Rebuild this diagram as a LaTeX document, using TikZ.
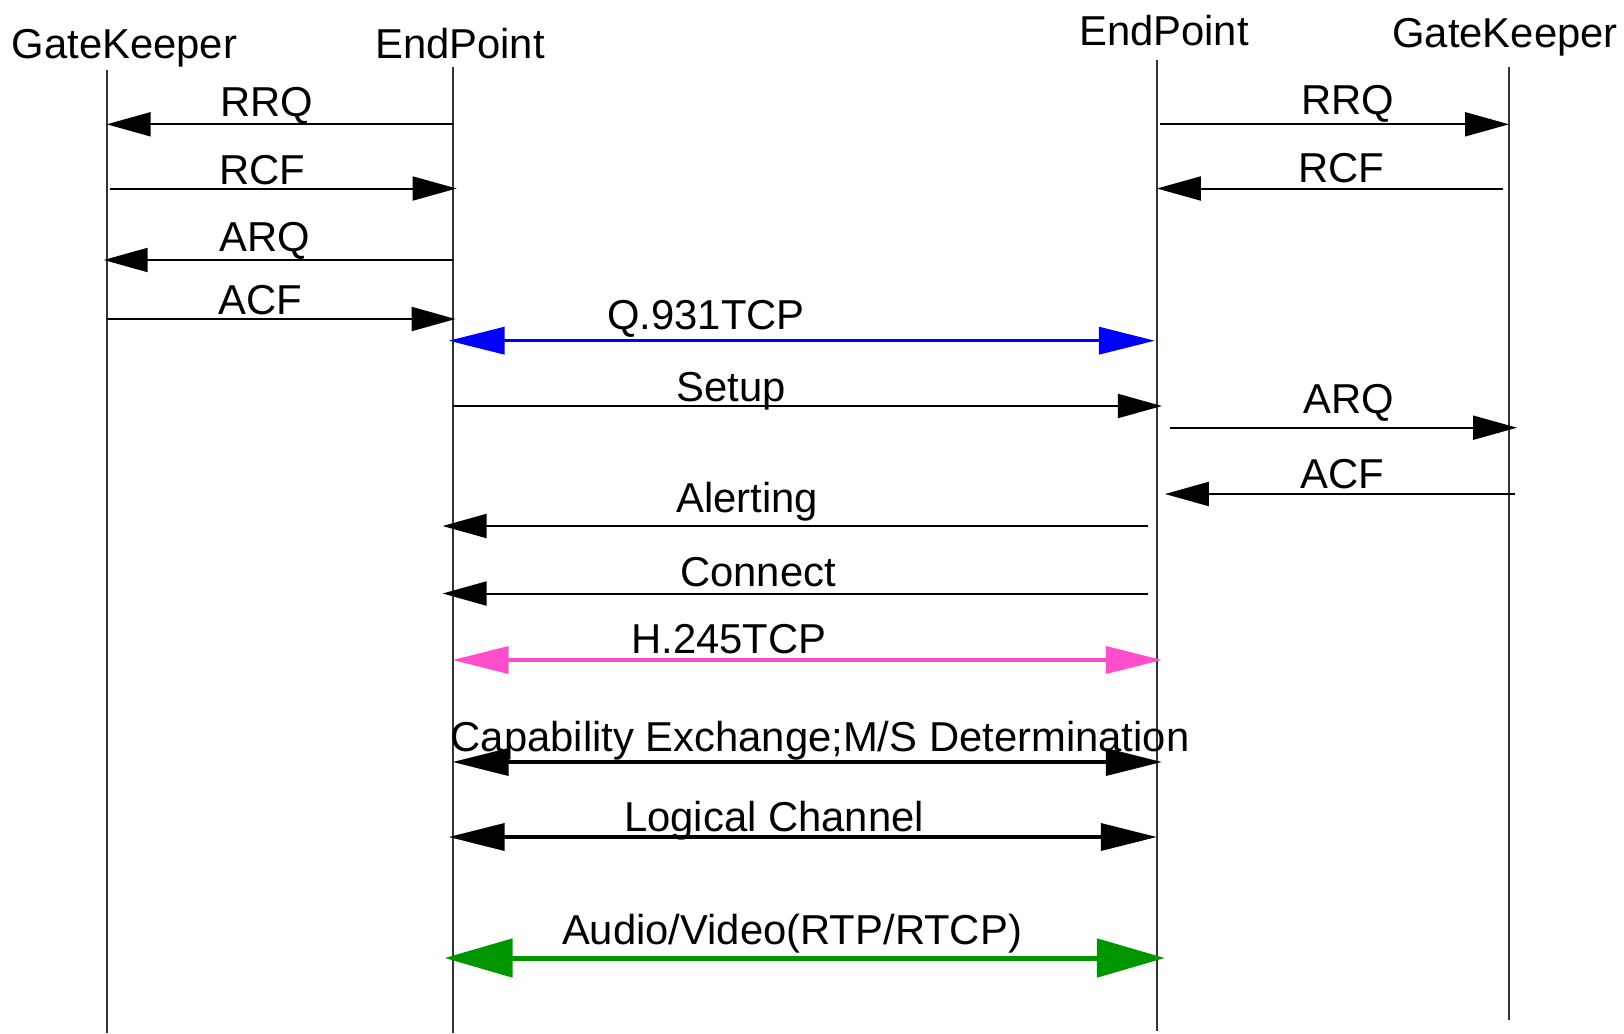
\documentclass[tikz,border=0pt]{standalone}
\usepackage{fontspec}
\setmainfont{Liberation Sans}
\usetikzlibrary{arrows.meta}

\definecolor{qblue}{RGB}{0,0,255}
\definecolor{hpink}{RGB}{255,77,204}
\definecolor{avgreen}{RGB}{0,150,0}

\begin{document}
\begin{tikzpicture}[
        x=1pt, y=-1pt,
        lbl/.style = {anchor=base, inner sep=0pt, font=\fontsize{41.8}{49}\selectfont},
        life/.style = {draw, black!80, line width=2pt},
        msg/.style = {draw, line width=2pt, -{Triangle[length=44pt,width=24pt]}}, % thin messages
        duplex/.style = {draw, line width=3.5pt, {Triangle[length=56pt,width=27pt]}-{Triangle[length=56pt,width=27pt]}},
        media/.style = {draw, avgreen, line width=5pt, {Triangle[length=68pt,width=38pt]}-{Triangle[length=68pt,width=38pt]}}
    ]
        \useasboundingbox (0,0) rectangle (1624,1033);

        % Lifelines
        \coordinate (gk1) at (106.7,70);
        \coordinate (ep1) at (452.6,67);
        \coordinate (ep2) at (1156.9,60);
        \coordinate (gk2) at (1509,67);
        \draw [life] (gk1) -- (gk1 |- 0,1033);
        \draw [life] (ep1) -- (ep1 |- 0,1033);
        \draw [life] (ep2) -- (ep2 |- 0,1031);
        \draw [life] (gk2) -- (gk2 |- 0,1020);

        % Headers
        \node [lbl] (gk1name) at (124.4,59) {GateKeeper};
        \node [lbl] (ep1name) at (460,59) {EndPoint};
        \node [lbl] (ep2name) at (1164,45.6) {EndPoint};
        \node [lbl] (gk2name) at (1505,47.6) {GateKeeper};

        % Registration, left side
        \node [lbl] (rrq1) at (267,116) {RRQ};
        \draw [msg] (ep1 |- 0,124.3) -- (gk1 |- 0,124.3);
        \node [lbl] (rcf1) at (262,184) {RCF};
        \draw [msg, shorten <=3pt, shorten >=-4pt] (gk1 |- 0,188.5) -- (ep1 |- 0,188.5);
        \node [lbl] (arq1) at (265,251.7) {ARQ};
        \draw [msg, shorten >=-3pt] (ep1 |- 0,260) -- (gk1 |- 0,260);
        \node [lbl] (acf1) at (260,314) {ACF};
        \draw [msg, shorten >=-3pt] (gk1 |- 0,319) -- (ep1 |- 0,319);

        % Registration, right side
        \node [lbl] (rrq2) at (1347.5,114) {RRQ};
        \draw [msg, shorten <=3pt] (ep2 |- 0,124.3) -- (gk2 |- 0,124.3);
        \node [lbl] (rcf2) at (1341,182) {RCF};
        \draw [msg, shorten <=6pt] (gk2 |- 0,188.5) -- (ep2 |- 0,188.5);

        % Call signalling
        \node [lbl] (q931) at (706,329) {Q.931TCP};
        \draw [duplex, qblue, shorten <=-4pt, shorten >=2pt] (ep1 |- 0,340.7) -- (ep2 |- 0,340.7);
        \node [lbl] (setup) at (731,401) {Setup};
        \draw [msg, shorten >=-5pt] (ep1 |- 0,406) -- (ep2 |- 0,406);
        \node [lbl] (arq2) at (1348.5,413) {ARQ};
        \draw [msg, shorten <=13pt, shorten >=-8pt] (ep2 |- 0,427.7) -- (gk2 |- 0,427.7);
        \node [lbl] (acf2) at (1342,488) {ACF};
        \draw [msg, shorten <=-6pt, shorten >=8pt] (gk2 |- 0,494) -- (ep2 |- 0,494);
        \node [lbl] (alert) at (747,512.7) {Alerting};
        \draw [msg, shorten <=9pt, shorten >=-10pt] (ep2 |- 0,526) -- (ep1 |- 0,526);
        \node [lbl] (connect) at (758,586) {Connect};
        \draw [msg, shorten <=9pt, shorten >=-10pt] (ep2 |- 0,593.5) -- (ep1 |- 0,593.5);

        % Control and media
        \node [lbl] (h245) at (729,653.5) {H.245TCP};
        \draw [duplex, hpink, shorten >=-5pt] (ep1 |- 0,660) -- (ep2 |- 0,660);
        \node [lbl] (capex) at (820,751) {Capability Exchange;M/S Determination};
        \draw [duplex, shorten >=-5pt] (ep1 |- 0,762) -- (ep2 |- 0,762);
        \node [lbl] (logch) at (774,831.6) {Logical Channel};
        \draw [duplex, shorten <=-4pt] (ep1 |- 0,837) -- (ep2 |- 0,837);
        \node [lbl] (avrtp) at (792,944.6) {Audio/Video(RTP/RTCP)};
        \draw [media, shorten <=-8pt, shorten >=-8pt] (ep1 |- 0,958) -- (ep2 |- 0,958);
    \end{tikzpicture}
\end{document}
